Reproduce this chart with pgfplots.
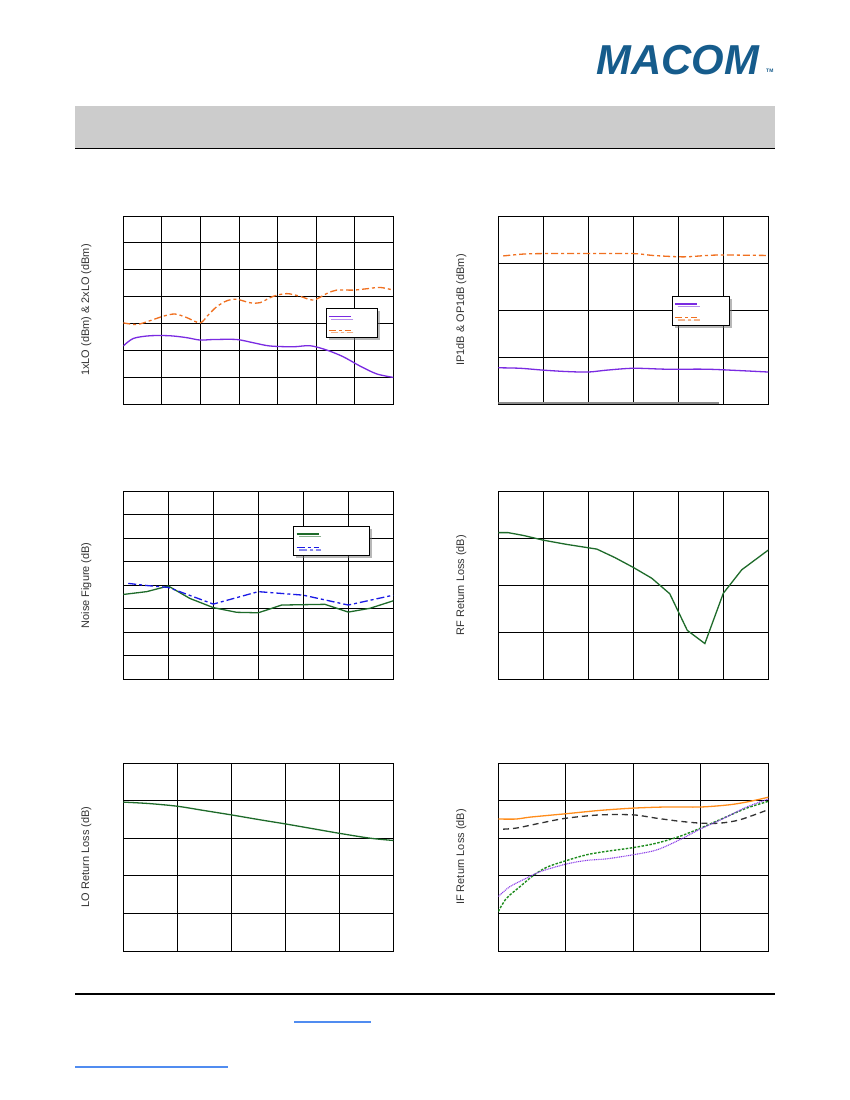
\documentclass[border=0pt]{standalone}
\usepackage{fontspec}
\setmainfont{Liberation Sans}
\usepackage{pgfplots}
\pgfplotsset{compat=1.18}
\usetikzlibrary{shadows}

\definecolor{macom}{RGB}{22,92,140}
\definecolor{band}{RGB}{204,204,204}
\definecolor{link}{RGB}{80,140,240}
\definecolor{corange}{RGB}{240,112,32}
\definecolor{cpurple}{RGB}{122,43,226}
\definecolor{cgreen}{RGB}{30,107,42}
\definecolor{cblue}{RGB}{26,26,230}
\definecolor{iforange}{RGB}{255,140,26}
\definecolor{ifgreen}{RGB}{30,140,30}
\definecolor{ifpurple}{RGB}{138,59,232}

\pgfplotsset{
  legend image code/.code={\draw[#1] (0bp,0bp) -- (22bp,0bp);},
  chartbox/.style={
    scale only axis, width=270bp, height=188bp,
    anchor=south west,
    xmin=0, ymin=0,
    grid=major, major grid style={black, line width=0.9bp},
    axis line style={black, line width=0.9bp},
    xticklabels={}, yticklabels={}, major tick length=0pt,
    ylabel style={at={(axis description cs:-0.137,0.5)}, anchor=center,
      font=\fontsize{11}{13}\selectfont, text=black!80},
    legend style={anchor=north west, draw=black, line width=1bp, fill=white,
      drop shadow={shadow xshift=2.5bp, shadow yshift=-2.5bp, fill=black!55},
      font=\fontsize{8}{8}\selectfont, inner xsep=2bp, inner ysep=1bp,
      row sep=0bp},
  },
}

\begin{document}
\begin{tikzpicture}[x=1bp,y=1bp]
\fill[white] (0,0) rectangle (850,1100);
% header
\node[anchor=south west, inner sep=0pt, text=macom, font=\fontsize{42}{42}\selectfont\bfseries\itshape] at (596,1025) {MACOM};
\node[anchor=south west, inner sep=0pt, text=macom, font=\fontsize{5}{5}\selectfont\bfseries] at (766,1027) {TM};
\fill[band] (75,952) rectangle (775,994);
\draw[black, line width=1.2bp] (75,951.5) -- (775,951.5);
% footer
\draw[black, line width=1.2bp] (75,106) -- (775,106);
\draw[link, line width=1.2bp] (294,78) -- (371,78);
\draw[link, line width=1.2bp] (75,33) -- (228,33);

% ---------- Plot 1 ----------
\begin{axis}[chartbox, at={(123.3bp,696bp)}, xmax=7, ymax=7, xtick={0,...,7}, ytick={0,...,7},
  ylabel={1xLO (dBm) \& 2xLO (dBm)},
  legend style={at={(axis description cs:0.75,0.508)}}]
\addplot[cpurple, line width=1.3bp, smooth, tension=0.5] coordinates {
(0,2.16) (0.26,2.44) (0.69,2.54) (1.21,2.54) (1.64,2.47) (1.99,2.38) (2.33,2.40)
(2.94,2.40) (3.37,2.28) (3.80,2.16) (4.41,2.13) (4.84,2.17) (5.27,2.01) (5.70,1.76)
(6.14,1.41) (6.57,1.12) (7.0,0.99)};
\addlegendentry{\rule{0pt}{8bp}\hspace*{20bp}}
\addplot[corange, line width=1.3bp, smooth, tension=0.5, dash pattern=on 7bp off 3bp on 3bp off 3bp] coordinates {
(0,3.02) (0.35,2.96) (0.69,3.10) (1.04,3.27) (1.34,3.35) (1.64,3.22) (1.99,3.02)
(2.20,3.31) (2.42,3.62) (2.68,3.84) (2.94,3.90) (3.28,3.77) (3.54,3.77) (3.89,4.01)
(4.24,4.11) (4.58,4.01) (4.93,3.87) (5.27,4.11) (5.53,4.24) (5.96,4.24) (6.31,4.29)
(6.66,4.34) (7.0,4.24)};
\addlegendentry{\rule{0pt}{8bp}\hspace*{20bp}}
\end{axis}

% ---------- Plot 2 ----------
\begin{axis}[chartbox, at={(498.3bp,696bp)}, xmax=6, ymax=4, xtick={0,...,6}, ytick={0,...,4},
  ylabel={IP1dB \& OP1dB (dBm)},
  legend style={at={(axis description cs:0.643,0.575)}}]
\addplot[cpurple, line width=1.3bp, smooth, tension=0.5] coordinates {
(0,0.77) (0.48,0.76) (1.0,0.72) (1.52,0.69) (2.0,0.68) (2.41,0.72) (3.0,0.76)
(3.74,0.74) (4.63,0.74) (5.37,0.71) (6.0,0.68)};
\addlegendentry{\rule{0pt}{8bp}\hspace*{26bp}}
\addplot[corange, line width=1.3bp, smooth, tension=0.5, dash pattern=on 7bp off 3bp on 3bp off 3bp] coordinates {
(0.11,3.15) (0.56,3.19) (1.0,3.20) (2.0,3.20) (3.0,3.20) (3.44,3.16) (4.11,3.13)
(4.63,3.16) (5.0,3.17) (6.0,3.16)};
\addlegendentry{\rule{0pt}{8bp}\hspace*{26bp}}
\addplot[black!45, line width=2bp, forget plot] coordinates {(0,0.03) (4.9,0.03)};
\end{axis}

% ---------- Plot 3 ----------
\begin{axis}[chartbox, at={(123.3bp,420.7bp)}, xmax=6, ymax=8, xtick={0,...,6}, ytick={0,...,8},
  ylabel={Noise Figure (dB)},
  legend style={at={(axis description cs:0.63,0.816)}}]
\addplot[cgreen, line width=1.3bp] coordinates {
(0,3.61) (0.52,3.73) (1.0,3.97) (1.48,3.44) (2.0,3.05) (2.52,2.85) (3.0,2.83)
(3.52,3.16) (4.48,3.19) (5.0,2.86) (5.48,3.02) (6.0,3.34)};
\addlegendentry{\rule{0pt}{8bp}\hspace*{44bp}}
\addplot[cblue, line width=1.3bp, dash pattern=on 8bp off 3bp on 3bp off 3bp] coordinates {
(0.11,4.08) (0.52,3.99) (1.0,3.91) (2.0,3.20) (3.0,3.73) (4.0,3.58) (5.0,3.16) (6.0,3.58)};
\addlegendentry{\rule{0pt}{8bp}\hspace*{44bp}}
\end{axis}

% ---------- Plot 4 ----------
\begin{axis}[chartbox, at={(498.3bp,420.7bp)}, xmax=6, ymax=4, xtick={0,...,6}, ytick={0,...,4},
  ylabel={RF Return Loss (dB)}]
\addplot[cgreen, line width=1.3bp] coordinates {
(0,3.12) (0.22,3.12) (0.56,3.06) (1.0,2.96) (1.52,2.87) (2.19,2.77) (2.59,2.59)
(3.0,2.38) (3.41,2.15) (3.81,1.82) (4.2,1.04) (4.59,0.76) (5.0,1.83) (5.41,2.33) (6.0,2.75)};
\end{axis}

% ---------- Plot 5 ----------
\begin{axis}[chartbox, at={(123.3bp,149bp)}, xmax=5, ymax=5, xtick={0,...,5}, ytick={0,...,5},
  ylabel={LO Return Loss (dB)}]
\addplot[cgreen, line width=1.3bp, smooth, tension=0.5] coordinates {
(0,3.96) (0.49,3.92) (1.0,3.85) (1.48,3.74) (2.0,3.62) (2.53,3.49) (3.0,3.38)
(3.52,3.25) (4.0,3.13) (4.57,3.0) (5.0,2.94)};
\end{axis}

% ---------- Plot 6 ----------
\begin{axis}[chartbox, at={(498.3bp,149bp)}, xmax=4, ymax=5, xtick={0,...,4}, ytick={0,...,5},
  ylabel={IF Return Loss (dB)}]
\addplot[iforange, line width=1.3bp, smooth, tension=0.5] coordinates {
(0,3.51) (0.27,3.51) (0.47,3.56) (1.0,3.65) (1.51,3.74) (2.0,3.80) (2.49,3.83)
(3.0,3.83) (3.43,3.89) (3.73,3.98) (4.0,4.09)};
\addplot[black!80, line width=1.3bp, smooth, tension=0.5, dash pattern=on 6bp off 4bp] coordinates {
(0.07,3.24) (0.27,3.27) (0.62,3.40) (1.0,3.53) (1.51,3.62) (2.0,3.62) (2.35,3.53)
(2.69,3.45) (3.0,3.40) (3.28,3.40) (3.58,3.49) (4.0,3.76)};
\addplot[ifgreen, line width=1.4bp, smooth, tension=0.5, dash pattern=on 2.5bp off 1.5bp] coordinates {
(0,1.05) (0.12,1.40) (0.32,1.71) (0.52,2.01) (0.72,2.23) (1.0,2.40) (1.31,2.56)
(1.60,2.65) (2.0,2.75) (2.35,2.87) (2.69,3.05) (3.0,3.27) (3.33,3.53) (3.68,3.80) (4.0,3.98)};
\addplot[ifpurple, line width=1.1bp, smooth, tension=0.5, dash pattern=on 1bp off 0.8bp] coordinates {
(0,1.45) (0.17,1.71) (0.42,1.94) (0.62,2.11) (1.0,2.31) (1.31,2.41) (1.60,2.45)
(2.0,2.56) (2.35,2.69) (2.69,2.96) (3.0,3.25) (3.33,3.52) (3.68,3.83) (4.0,4.04)};
\end{axis}
\end{tikzpicture}
\end{document}
